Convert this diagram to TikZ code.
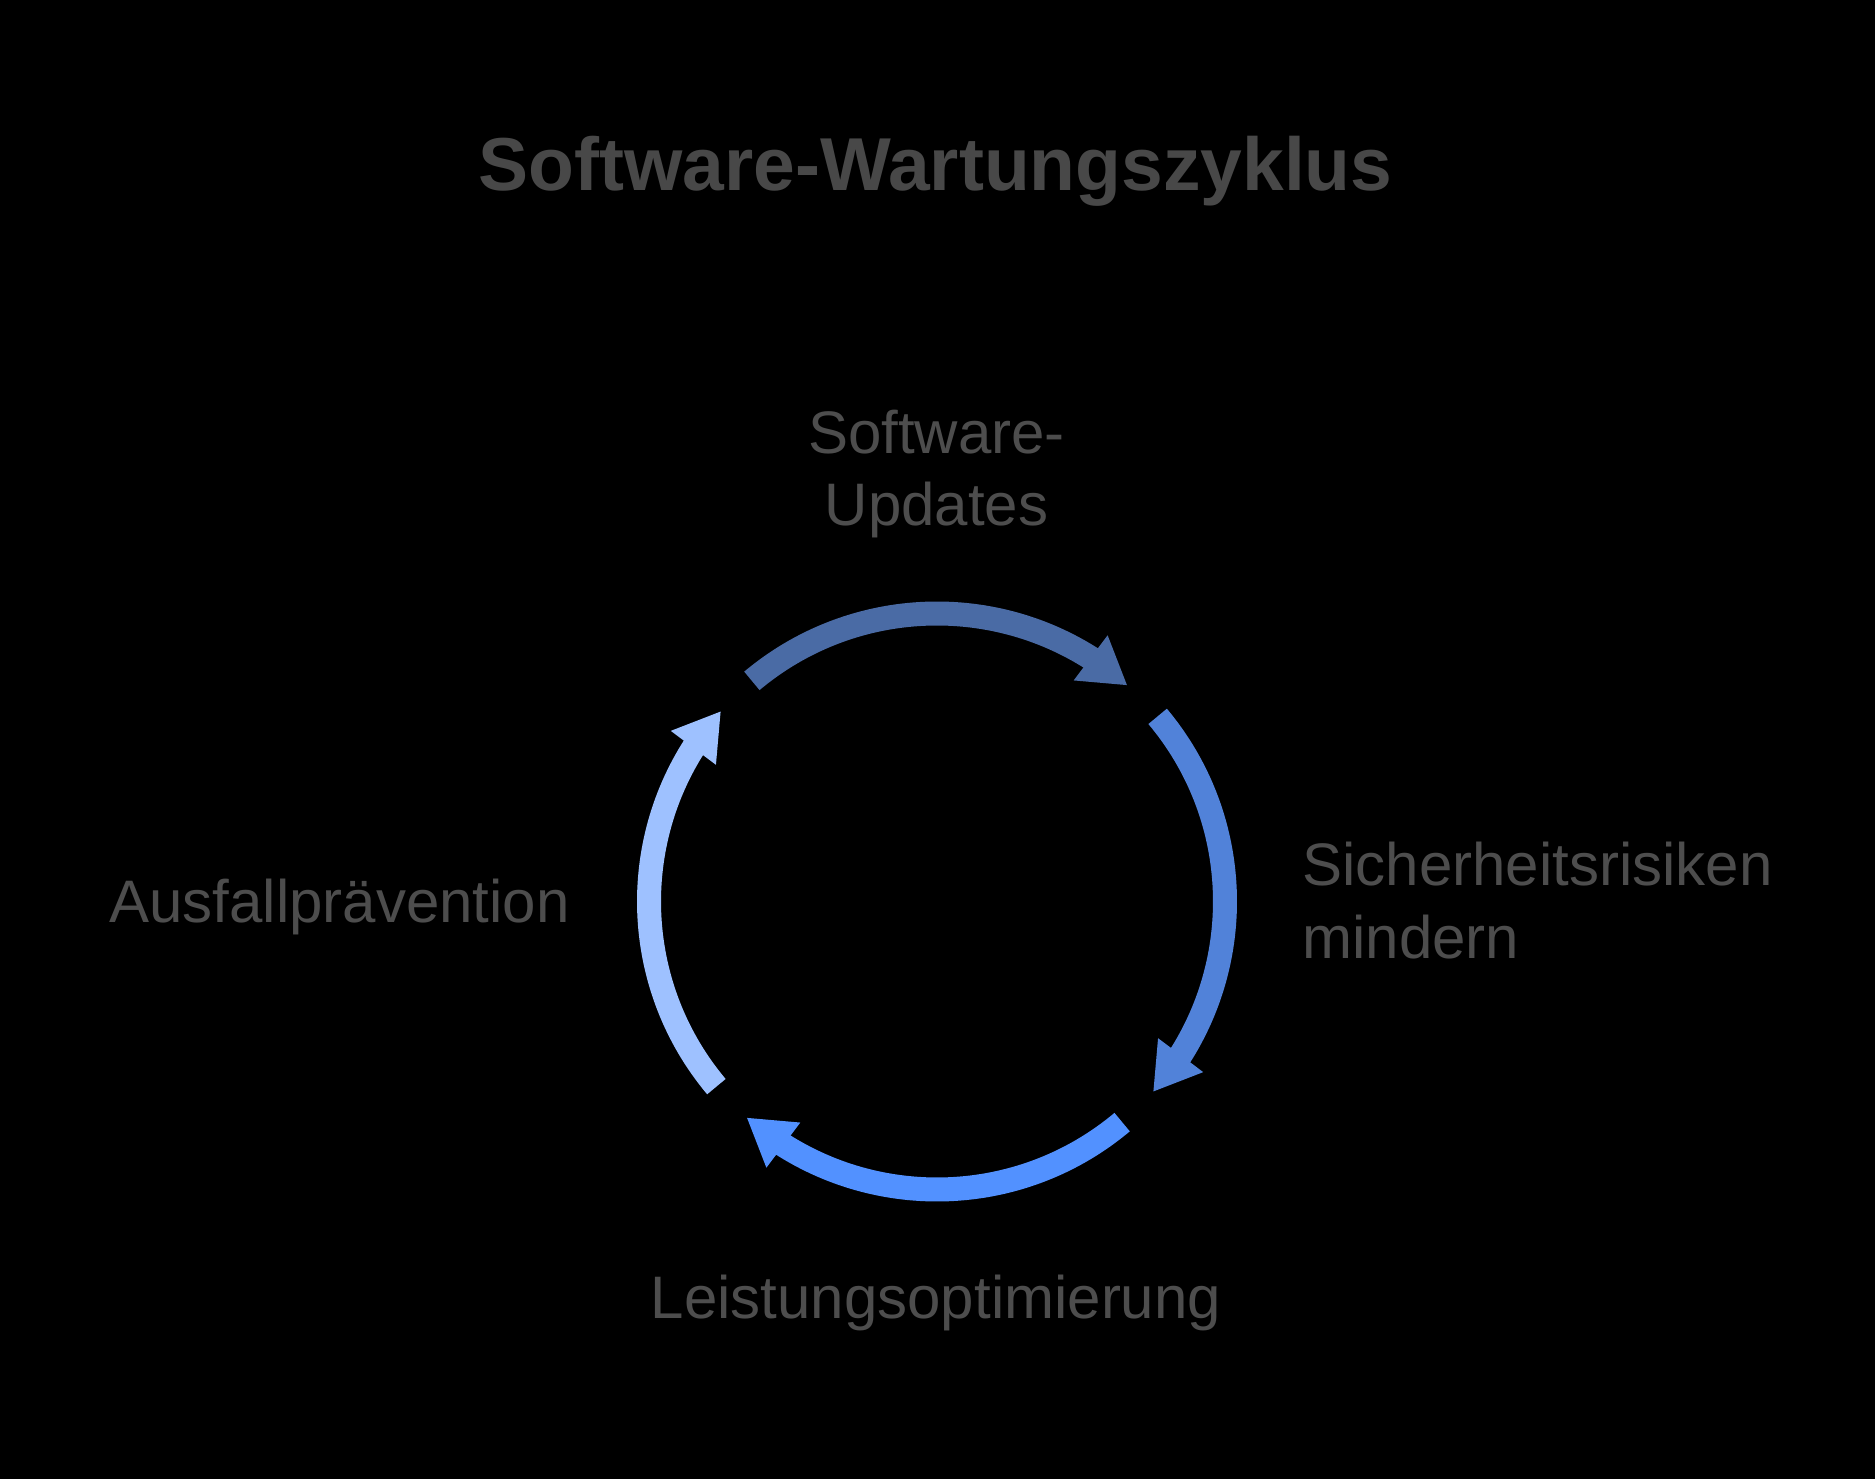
\documentclass[tikz,border=0pt]{standalone}
\usepackage{fontspec}
\setmainfont{Liberation Sans}
\usetikzlibrary{arrows.meta,bending}
\definecolor{txt}{HTML}{4D4D4D}
\definecolor{ttlc}{HTML}{484848}
\definecolor{cTop}{HTML}{4A6BA5}
\definecolor{cRight}{HTML}{5182D9}
\definecolor{cBottom}{HTML}{5291FF}
\definecolor{cLeft}{HTML}{9EC1FF}
\begin{document}
\begin{tikzpicture}[x=0.5pt,y=0.5pt,
  lbl/.style={font=\fontsize{30pt}{36.3pt}\selectfont, text=txt, inner sep=0pt},
  ttl/.style={font=\fontsize{37.5pt}{45pt}\selectfont\bfseries, text=ttlc, inner sep=0pt},
  cyc/.style={line width=12pt, -{Triangle[length=23pt,width=26.5pt,flex]}}]
\fill[black] (0,0) rectangle (1875,1479);
\useasboundingbox (0,0) rectangle (1875,1479);
\coordinate (c) at (937,577.5);
% title
\node[ttl, anchor=base] (title) at (935.5,1288.3) {Software-Wartungszyklus};
% labels (base anchor = baseline of last line)
\node[lbl, anchor=base, align=center] (upd) at (936.5,953.1) {Software-\\Updates};
\node[lbl, anchor=base west, align=left] (sec) at (1302,520.7) {Sicherheitsrisiken\\mindern};
\node[lbl, anchor=base] (perf) at (936,160.7) {Leistungsoptimierung};
\node[lbl, anchor=base west] (fail) at (109,556.7) {Ausfallprävention};
% cycle arcs
\path (c) ++(130:144pt) coordinate (sTop);
\path (c) ++(40:144pt) coordinate (sRight);
\path (c) ++(-50:144pt) coordinate (sBottom);
\path (c) ++(220:144pt) coordinate (sLeft);
\draw[cyc, draw=cTop] (sTop) arc[start angle=130, end angle=48.6, radius=144pt];
\draw[cyc, draw=cRight] (sRight) arc[start angle=40, end angle=-41.4, radius=144pt];
\draw[cyc, draw=cBottom] (sBottom) arc[start angle=-50, end angle=-131.4, radius=144pt];
\draw[cyc, draw=cLeft] (sLeft) arc[start angle=220, end angle=138.6, radius=144pt];
\end{tikzpicture}
\end{document}
